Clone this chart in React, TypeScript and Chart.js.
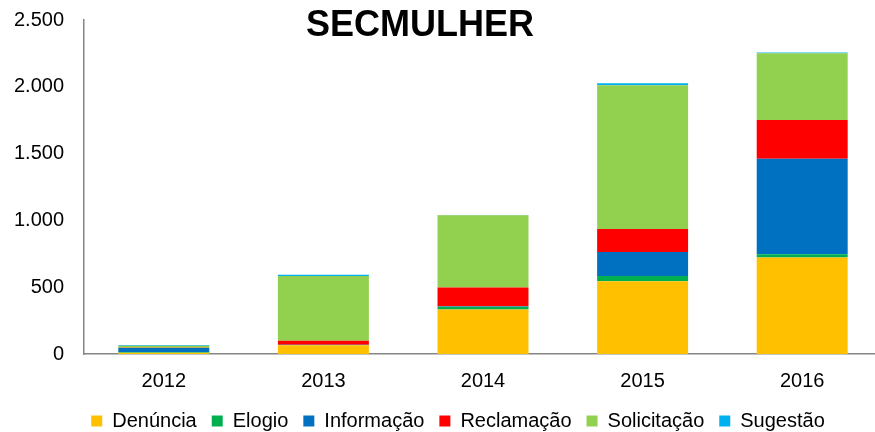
import React, { useEffect, useRef } from "react";
import { Chart, registerables } from "chart.js";

Chart.register(...registerables);

const years = ["2012", "2013", "2014", "2015", "2016"];
const denuncia = [10, 65, 333, 545, 723];
const elogio = [5, 3, 20, 38, 23];
const informacao = [30, 2, 5, 180, 716];
const reclamacao = [2, 30, 140, 173, 290];
const solicitacao = [15, 483, 540, 1076, 500];
const sugestao = [5, 10, 3, 15, 5];
const yTicks = [0, 500, 1000, 1500, 2000, 2500];
const chartTitle = "SECMULHER";

const FONT = '"Liberation Sans", Arial, sans-serif';

const titlePlugin = {
  id: "insideTitle",
  afterLayout(chart: any) {
    const lg = chart.legend;
    if (lg) {
      lg.left += 17;
      lg.right += 17;
      lg.top -= 12;
      lg.bottom -= 12;
    }
  },
  afterDraw(chart: any) {
    const ctx = chart.ctx;
    ctx.save();
    ctx.font = `bold 36px ${FONT}`;
    ctx.fillStyle = "#000000";
    ctx.textAlign = "center";
    ctx.textBaseline = "middle";
    ctx.fillText(chartTitle, 420, 26);
    ctx.restore();
  },
};

export default function App() {
  const ref = useRef<HTMLCanvasElement | null>(null);
  useEffect(() => {
    if (!ref.current) return;
    const mk = (label: string, data: number[], color: string) => ({
      label,
      data,
      backgroundColor: color,
      borderWidth: 0,
      barPercentage: 0.57,
      categoryPercentage: 1,
    });
    const chart = new Chart(ref.current, {
      type: "bar",
      data: {
        labels: years,
        datasets: [
          mk("Denúncia", denuncia, "#FFC000"),
          mk("Elogio", elogio, "#00B050"),
          mk("Informação", informacao, "#0070C0"),
          mk("Reclamação", reclamacao, "#FF0000"),
          mk("Solicitação", solicitacao, "#92D050"),
          mk("Sugestão", sugestao, "#00B0F0"),
        ],
      },
      options: {
        responsive: false,
        animation: false,
        layout: { padding: { top: 20, left: 0, right: 3, bottom: -21 } },
        plugins: {
          title: { display: false },
          tooltip: { enabled: false },
          legend: {
            position: "bottom",
            labels: {
              boxWidth: 11,
              boxHeight: 11,
              padding: 15,
              color: "#000000",
              font: { family: FONT, size: 20 },
            },
          },
        },
        scales: {
          x: {
            stacked: true,
            grid: { display: false, drawTicks: false },
            border: { display: true, color: "#868686", width: 1.5 },
            ticks: {
              color: "#000000",
              font: { family: FONT, size: 20 },
              padding: 15,
            },
          },
          y: {
            stacked: true,
            min: 0,
            max: 2500,
            afterBuildTicks(scale: any) {
              scale.ticks = yTicks.map((v) => ({ value: v }));
            },
            afterFit(scale: any) {
              scale.width = 84;
              scale.paddingTop = 0;
              scale.paddingBottom = 0;
            },
            grid: { display: false, drawTicks: false },
            border: { display: true, color: "#868686", width: 1.5 },
            ticks: {
              color: "#000000",
              font: { family: FONT, size: 20 },
              padding: 20,
              callback: (v: any) =>
                Number(v).toLocaleString("en-US").replace(/,/g, "."),
            },
          },
        },
      },
      plugins: [titlePlugin],
    });
    return () => chart.destroy();
  }, []);
  return (
    <div
      style={{
        position: "fixed",
        left: 0,
        top: 0,
        width: 875,
        height: 432,
        overflow: "hidden",
        background: "#ffffff",
      }}
    >
      <canvas ref={ref} width={885} height={432} style={{ display: "block" }} />
    </div>
  );
}
